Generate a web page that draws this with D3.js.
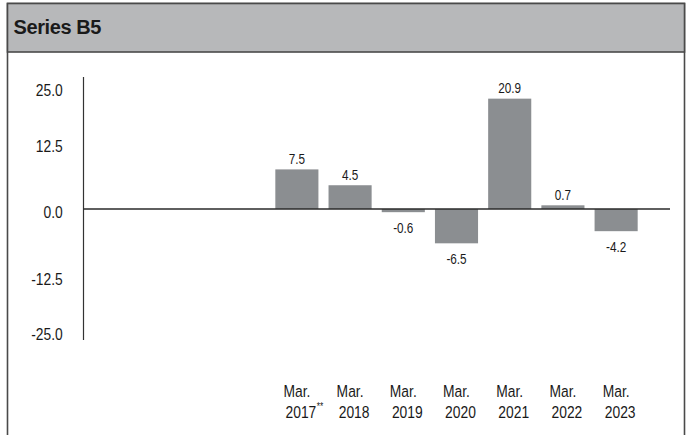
<!DOCTYPE html>
<html>
<head>
<meta charset="utf-8">
<script src="https://cdn.jsdelivr.net/npm/d3@7"></script>
<style>
  html, body { margin: 0; padding: 0; background: #fff; }
  svg { display: block; }
  .nf { font-family: "Liberation Sans", Arial, sans-serif; }
</style>
</head>
<body>
<svg id="chart" width="688" height="435"></svg>
<script>
const title = "Series B5";
const months = ["Mar.", "Mar.", "Mar.", "Mar.", "Mar.", "Mar.", "Mar."];
const years = ["2017", "2018", "2019", "2020", "2021", "2022", "2023"];
const notes = ["**", "", "", "", "", "", ""];
const values = [7.5, 4.5, -0.6, -6.5, 20.9, 0.7, -4.2];
const valueLabels = ["7.5", "4.5", "-0.6", "-6.5", "20.9", "0.7", "-4.2"];
const yTicks = [25, 12.5, 0, -12.5, -25];
const yTickLabels = ["25.0", "12.5", "0.0", "-12.5", "-25.0"];

const SX = 0.84; // narrow the text horizontally, like the condensed original face
const svg = d3.select("#chart");

// frame
svg.append("rect").attr("x", 7.5).attr("y", 3.5).attr("width", 677).attr("height", 440)
  .attr("fill", "#fff").attr("stroke", "#4a4a4a").attr("stroke-width", 1.6);
svg.append("rect").attr("x", 7.5).attr("y", 3.5).attr("width", 677).attr("height", 48.5)
  .attr("fill", "#b7b8ba").attr("stroke", "#4a4a4a").attr("stroke-width", 1.6);
svg.append("text").attr("x", 13.5).attr("y", 33.5)
  .attr("font-family", "'Liberation Sans', Arial, sans-serif")
  .attr("font-weight", "bold").attr("font-size", 20).attr("letter-spacing", -0.4)
  .attr("fill", "#1a1a1a").text(title);

const axisX = 83.5;
const y = d3.scaleLinear().domain([-25, 25]).range([341, 77]);
const x = d3.scaleBand().domain(years).range([270, 643]).paddingInner(0.19).paddingOuter(0.1);

// tick label placement scale (labels sit at their own positions in the original)
const yLab = d3.scaleLinear().domain([-25, -12.5, 0, 12.5, 25]).range([334, 278.6, 212, 146, 90]);

// y axis line
svg.append("line").attr("x1", axisX).attr("x2", axisX)
  .attr("y1", y.range()[1]).attr("y2", y.range()[0] - 1)
  .attr("stroke", "#333").attr("stroke-width", 1.2);

const gy = svg.append("g").attr("transform", `translate(${axisX},0)`)
  .call(d3.axisLeft(yLab).tickValues(yTicks).tickSize(0).tickPadding(0)
    .tickFormat((d, i) => yTickLabels[i]));
gy.select(".domain").remove();
gy.selectAll("text").attr("class", "nf").attr("font-size", 16.5).attr("fill", "#1a1a1a")
  .attr("x", 0).attr("dy", "0.35em")
  .attr("transform", `translate(-20.8,0) scale(${SX},1)`);

// bars
svg.append("g").selectAll("rect").data(values).join("rect")
  .attr("x", (d, i) => x(years[i]))
  .attr("width", x.bandwidth())
  .attr("y", d => y(Math.max(0, d)))
  .attr("height", d => Math.abs(y(d) - y(0)))
  .attr("fill", "#8b8e91");

// zero line
svg.append("line").attr("x1", axisX).attr("x2", 670)
  .attr("y1", y(0)).attr("y2", y(0))
  .attr("stroke", "#2a2a2a").attr("stroke-width", 1.3);

// value labels
svg.append("g").selectAll("text").data(values).join("text")
  .attr("class", "nf")
  .attr("transform", (d, i) => `translate(${x(years[i]) + x.bandwidth() / 2},${d >= 0 ? y(d) - 5.5 : y(d) + 20.5}) scale(${SX},1)`)
  .attr("text-anchor", "middle").attr("font-size", 14).attr("fill", "#1a1a1a")
  .text((d, i) => valueLabels[i]);

// category labels
const cat = svg.append("g").selectAll("g").data(years).join("g")
  .attr("transform", d => `translate(${x(d) + x.bandwidth() / 2},0)`);
cat.append("text").attr("class", "nf").attr("text-anchor", "middle")
  .attr("transform", `translate(0,397) scale(${SX},1)`)
  .attr("font-size", 16.5).attr("fill", "#1a1a1a").text((d, i) => months[i]);
const yr = cat.append("text").attr("class", "nf").attr("text-anchor", "middle")
  .attr("transform", `translate(4,418) scale(${SX},1)`)
  .attr("font-size", 16.5).attr("fill", "#1a1a1a").text(d => d);
yr.each(function(d, i) {
  if (notes[i]) {
    const w = this.getComputedTextLength();
    d3.select(this.parentNode).append("text").attr("class", "nf")
      .attr("transform", `translate(${4 + w * SX / 2 + 0.5},410) scale(${SX},1)`)
      .attr("font-size", 10).attr("fill", "#1a1a1a").text(notes[i]);
  }
});
</script>
</body>
</html>
